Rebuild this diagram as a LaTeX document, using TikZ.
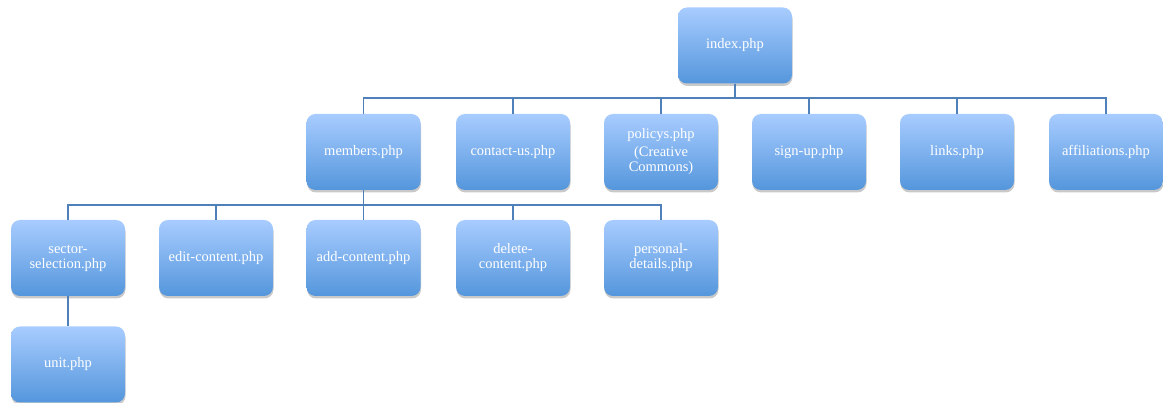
\documentclass[tikz,border=0pt]{standalone}
\usepackage{fontspec}
\setmainfont{Liberation Serif}
\usetikzlibrary{shadows}
\definecolor{boxtop}{RGB}{168,204,255}
\definecolor{boxbot}{RGB}{84,150,220}
\definecolor{linec}{RGB}{80,128,186}
\begin{document}
\begin{tikzpicture}[x=1pt,y=-1pt,
  pbox/.style={rounded corners=9pt, minimum width=114pt, minimum height=76pt,
    top color=boxtop, bottom color=boxbot, draw=none, text=white,
    align=center, text width=104pt, font=\fontsize{14.5}{15}\selectfont,
    drop shadow={shadow xshift=0.5pt, shadow yshift=-2.5pt, opacity=0.3, fill=black!70, rounded corners=9pt}},
  conn/.style={draw=linec, line width=1.8pt}]
\useasboundingbox (0,0) rectangle (1163,403);
\node[pbox] (index) at (735,45.5) {index.php};
\node[pbox] (members) at (363.5,152) {members.php};
\node[pbox] (contact) at (513,152) {contact-us.php};
\node[pbox] (policys) at (661,152) {policys.php\\[3pt](Creative\\Commons)};
\node[pbox] (signup) at (809,152) {sign-up.php};
\node[pbox] (links) at (957,152) {links.php};
\node[pbox] (affil) at (1106,152) {affiliations.php};
\node[pbox] (sector) at (68,258) {sector-\\selection.php};
\node[pbox] (edit) at (216,258) {edit-content.php};
\node[pbox] (add) at (363.5,258) {add-content.php};
\node[pbox] (delete) at (513,258) {delete-\\content.php};
\node[pbox] (personal) at (661,258) {personal-\\details.php};
\node[pbox] (unit) at (68,364.5) {unit.php};
\foreach \c in {members,contact,policys,signup,links,affil}
  \draw[conn] (index.south) -- ++(0,14.5) -| (\c.north);
\foreach \c in {sector,edit,add,delete,personal}
  \draw[conn] (members.south) -- ++(0,15) -| (\c.north);
\draw[conn] (sector.south) -- (unit.north);
\end{tikzpicture}
\end{document}
